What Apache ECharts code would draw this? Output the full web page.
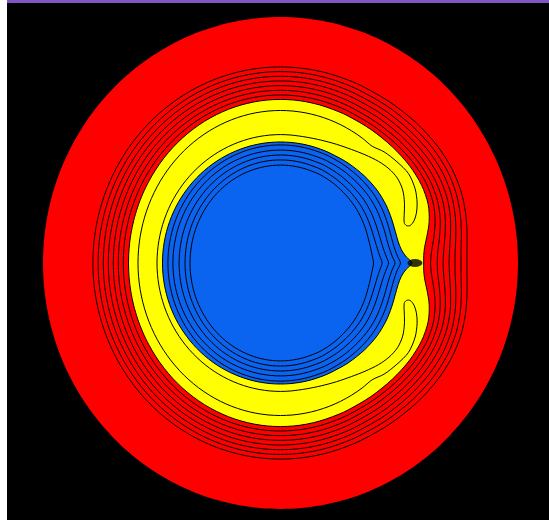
<!DOCTYPE html>
<html>
<head>
<meta charset="utf-8">
<script src="https://cdn.jsdelivr.net/npm/echarts@6/dist/echarts.min.js"></script>
<style>
  html, body { margin: 0; padding: 0; background: #ffffff; }
  #chart { width: 549px; height: 520px; }
</style>
</head>
<body>
<div id="chart"></div>
<script>
// Every contour is an ellipse [a, b] (semi-axes in field units) away from the
// saddle; close to the saddle its radius is listed at NEAR_DEG (mirrored below the axis).
const NEAR_DEG = [0, 3, 6, 10, 15, 21, 28, 36, 45, 55, 65];

// Outer edge of the field
const DISK_AXES = [1.0, 1.0];

// Contour lines inside the red band, outermost first
const RED_AXES = [
  [0.790, 0.797], [0.768, 0.778], [0.746, 0.759], [0.725, 0.740],
  [0.704, 0.721], [0.683, 0.702], [0.662, 0.683]
];
const RED_NEAR = [
  [0.785, 0.786, 0.790, 0.797, 0.806, 0.814, 0.817, 0.814, 0.807, 0.800, 0.797],
  [0.760, 0.761, 0.765, 0.773, 0.783, 0.792, 0.796, 0.793, 0.786, 0.780, 0.777],
  [0.735, 0.736, 0.741, 0.750, 0.761, 0.771, 0.775, 0.772, 0.765, 0.760, 0.757],
  [0.710, 0.712, 0.717, 0.727, 0.740, 0.750, 0.754, 0.751, 0.745, 0.740, 0.738],
  [0.685, 0.687, 0.693, 0.704, 0.718, 0.729, 0.733, 0.731, 0.725, 0.720, 0.718],
  [0.660, 0.662, 0.669, 0.681, 0.696, 0.708, 0.713, 0.711, 0.705, 0.700, 0.699],
  [0.632, 0.635, 0.643, 0.657, 0.674, 0.688, 0.694, 0.692, 0.686, 0.681, 0.680]
];

// Red / yellow boundary
const YELLOW_AXES = [0.640, 0.665];
const YELLOW_NEAR = [0.603, 0.604, 0.610, 0.626, 0.648, 0.666, 0.673, 0.672, 0.667, 0.663, 0.662];

// Horseshoe contour inside the yellow band: two elliptical arcs joined by
// the upper arm [angle, radius] (outer arc -> end -> inner arc) and its mirror image
const HORSESHOE_OUTER_AXES = [0.600, 0.620];
const HORSESHOE_INNER_AXES = [0.520, 0.522];
const HORSESHOE_OUTER_FROM = 50;   // degrees where the outer arc meets the arm
const HORSESHOE_INNER_FROM = 85;   // degrees where the inner arc meets the arm
const HORSESHOE_ARM = [
  [46, 0.628], [40, 0.640], [34, 0.650], [28, 0.642], [23, 0.625], [19.5, 0.607],
  [17, 0.588], [15.6, 0.567], [16.0, 0.552], [17.5, 0.546], [20.5, 0.556],
  [25, 0.576], [30, 0.594], [35, 0.601], [40, 0.596], [45, 0.584],
  [51, 0.566], [57, 0.550], [64, 0.537], [71, 0.528], [78, 0.523]
];

// Yellow / blue boundary
const BLUE_AXES = [0.497, 0.492];
const BLUE_NEAR = [0.553, 0.528, 0.512, 0.503, 0.500, 0.501, 0.503, 0.503, 0.500, 0.496, 0.493];

// Contour lines inside the blue core, outermost first
const BLUE_LINE_AXES = [[0.474, 0.480], [0.453, 0.459], [0.427, 0.439], [0.402, 0.419], [0.381, 0.398]];
const BLUE_LINE_NEAR = [
  [0.505, 0.494, 0.486, 0.480, 0.478, 0.479, 0.481, 0.482, 0.481, 0.480, 0.480],
  [0.482, 0.472, 0.465, 0.459, 0.457, 0.457, 0.459, 0.460, 0.459, 0.459, 0.459],
  [0.455, 0.447, 0.440, 0.434, 0.431, 0.431, 0.433, 0.435, 0.435, 0.436, 0.438],
  [0.428, 0.421, 0.415, 0.410, 0.407, 0.407, 0.409, 0.411, 0.412, 0.414, 0.417],
  [0.392, 0.389, 0.386, 0.384, 0.383, 0.384, 0.386, 0.388, 0.390, 0.393, 0.396]
];

// Saddle point where the bands pinch together
const SADDLE = [[0.566, 0]];

const COLORS = { field: '#ff0000', yellow: '#ffff00', blue: '#0a64f0', line: '#000000', bg: '#000000' };
const ARC_STEP = 5;

function polarPoint(deg, r) {
  const t = deg * Math.PI / 180;
  return [r * Math.cos(t), r * Math.sin(t)];
}
function ellipsePoint(deg, axes) {
  const t = deg * Math.PI / 180;
  return [axes[0] * Math.cos(t), axes[1] * Math.sin(t)];
}

// Closed contour: listed radii near the saddle, ellipse elsewhere
function closedContour(axes, near) {
  const pts = [];
  const limit = near ? NEAR_DEG[NEAR_DEG.length - 1] : 0;
  if (near) NEAR_DEG.forEach((d, i) => pts.push(polarPoint(d, near[i])));
  else pts.push(ellipsePoint(0, axes));
  for (let d = limit + ARC_STEP; d <= 360 - limit - ARC_STEP; d += ARC_STEP) pts.push(ellipsePoint(d, axes));
  if (near) for (let i = NEAR_DEG.length - 1; i > 0; i--) pts.push(polarPoint(-NEAR_DEG[i], near[i]));
  return pts;
}

function horseshoeContour() {
  const pts = [];
  // upper arm: outer arc -> rounded end -> inner arc
  HORSESHOE_ARM.forEach(p => pts.push(polarPoint(p[0], p[1])));
  // inner arc, counter-clockwise round the far side
  for (let d = HORSESHOE_INNER_FROM; d <= 360 - HORSESHOE_INNER_FROM; d += ARC_STEP) pts.push(ellipsePoint(d, HORSESHOE_INNER_AXES));
  // lower arm: inner arc -> rounded end -> outer arc
  for (let i = HORSESHOE_ARM.length - 1; i >= 0; i--) pts.push(polarPoint(-HORSESHOE_ARM[i][0], HORSESHOE_ARM[i][1]));
  // outer arc, clockwise back to the upper arm
  for (let d = 360 - HORSESHOE_OUTER_FROM; d >= HORSESHOE_OUTER_FROM; d -= ARC_STEP) pts.push(ellipsePoint(d, HORSESHOE_OUTER_AXES));
  return pts;
}

// Drawing order: fills from the outside in, contour lines over them
const shapes = [];
shapes.push({ pts: closedContour(DISK_AXES, null), fill: COLORS.field, stroke: null });
RED_AXES.forEach((ax, i) => shapes.push({ pts: closedContour(ax, RED_NEAR[i]), fill: null, stroke: COLORS.line }));
shapes.push({ pts: closedContour(YELLOW_AXES, YELLOW_NEAR), fill: COLORS.yellow, stroke: COLORS.line });
shapes.push({ pts: horseshoeContour(), fill: null, stroke: COLORS.line });
shapes.push({ pts: closedContour(BLUE_AXES, BLUE_NEAR), fill: COLORS.blue, stroke: COLORS.line });
BLUE_LINE_AXES.forEach((ax, i) => shapes.push({ pts: closedContour(ax, BLUE_LINE_NEAR[i]), fill: null, stroke: COLORS.line }));

const chart = echarts.init(document.getElementById('chart'), null, { renderer: 'canvas' });

chart.setOption({
  animation: false,
  backgroundColor: '#ffffff',
  graphic: [{
    type: 'rect', left: 7, top: 0, z: 100,
    shape: { width: 542, height: 3 },
    style: { fill: '#7e57c2' }
  }],
  grid: {
    left: 7, right: 0, top: 3, bottom: 0,
    show: true, backgroundColor: COLORS.bg, borderWidth: 0
  },
  xAxis: { type: 'value', min: -1.15158, max: 1.13053, show: false },
  yAxis: { type: 'value', min: -1.04472, max: 1.05691, show: false },
  series: [
    {
      type: 'custom',
      coordinateSystem: 'cartesian2d',
      data: shapes.map((s, i) => [0, 0, i]),
      encode: { x: 0, y: 1 },
      renderItem: function (params, api) {
        const s = shapes[api.value(2)];
        const points = s.pts.map(p => api.coord(p));
        return {
          type: 'polygon',
          shape: { points: points, smooth: 0.3 },
          style: {
            fill: s.fill || 'none',
            stroke: s.stroke || 'none',
            lineWidth: s.stroke ? 1 : 0
          }
        };
      }
    },
    {
      type: 'scatter',
      data: SADDLE,
      symbol: 'circle',
      symbolSize: [15, 8],
      itemStyle: { color: COLORS.line },
      z: 5
    }
  ]
});
</script>
</body>
</html>
